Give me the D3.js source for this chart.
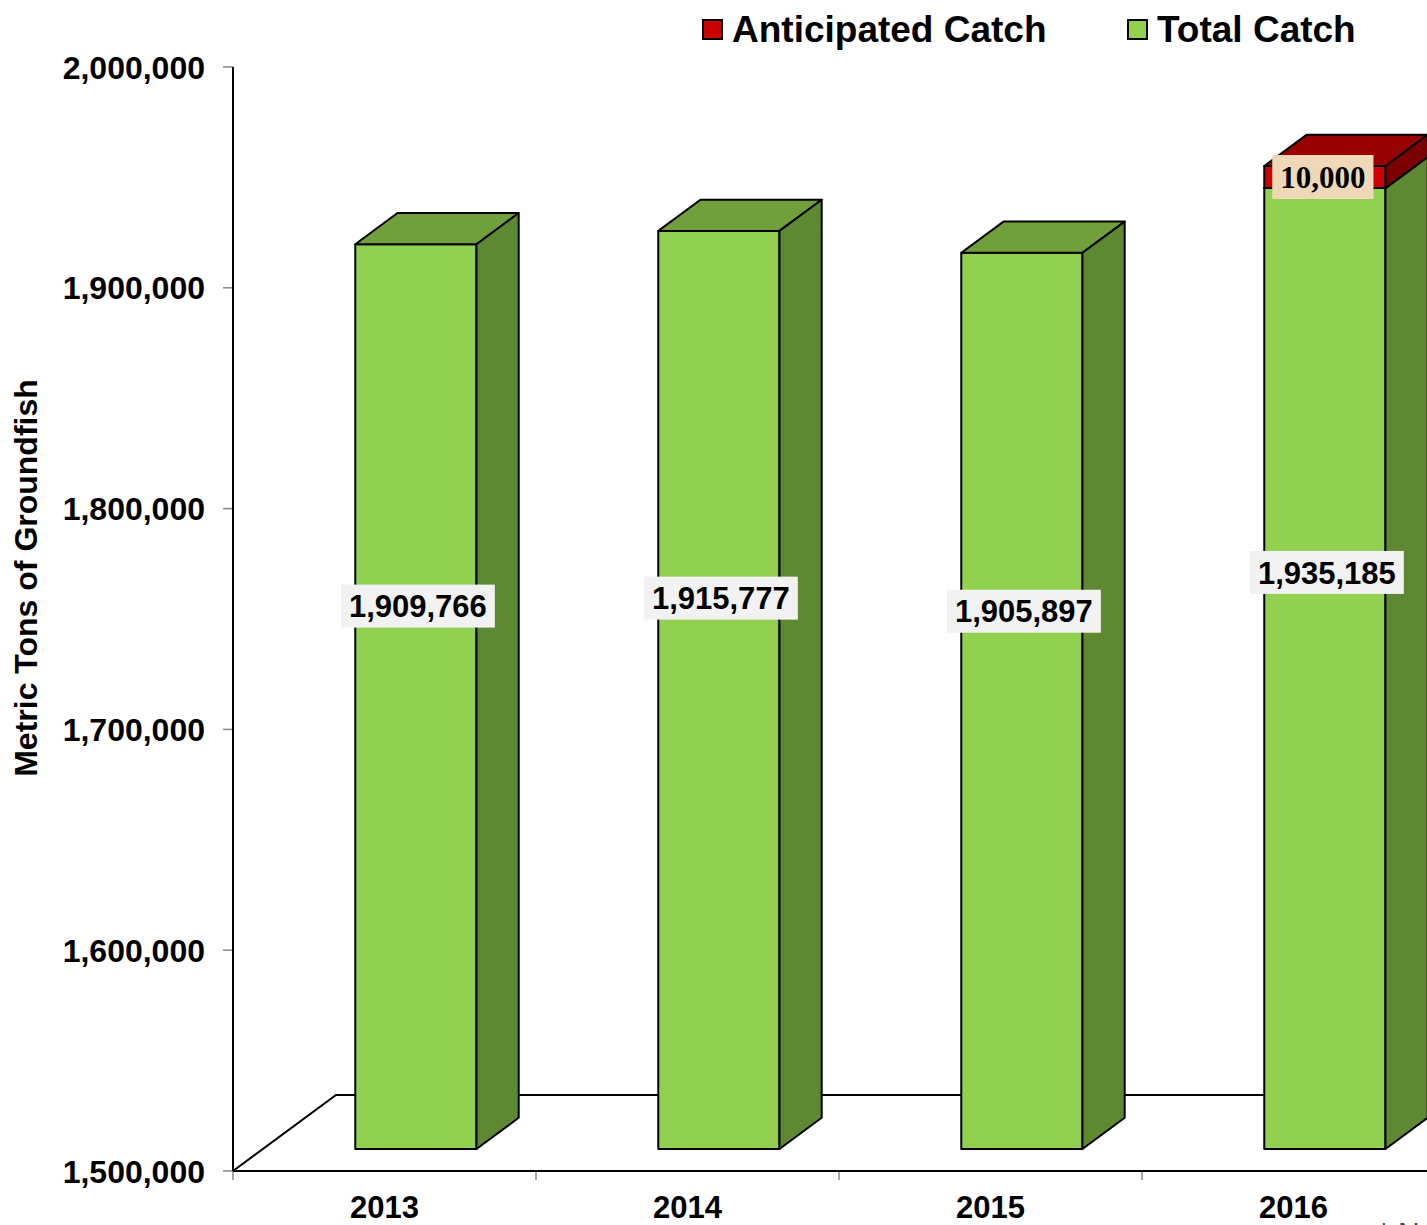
<!DOCTYPE html>
<html lang="en">
<head>
    <meta charset="UTF-8">
    <title>Groundfish catch</title>
    <script src="https://d3js.org/d3.v7.min.js"></script>
    <style>
        body { margin: 0; background: #fff; }
        text { font-family: "Liberation Sans", Arial, sans-serif; font-weight: bold; }
    </style>
</head>
<body>
    <svg width="1427" height="1225"></svg>
    <script>
        // chart data
        const years = ["2013", "2014", "2015", "2016"];
        const totalCatch = [1909766, 1915777, 1905897, 1935185];
        const anticipatedCatch = [0, 0, 0, 10000];
        const yTicks = [1500000, 1600000, 1700000, 1800000, 1900000, 2000000];
        const seriesNames = ["Anticipated Catch", "Total Catch"];

        const svg = d3.select("svg");
        const fmt = d3.format(",");

        const plotLeft = 233, plotBottom = 1171, plotTop = 67;
        const step = 303;

        const x = d3.scaleBand()
            .domain(years)
            .range([plotLeft, plotLeft + step * years.length])
            .paddingInner(0.6)
            .paddingOuter(0.3);

        const y = d3.scaleLinear()
            .domain([1500000, 2000000])
            .range([plotBottom, plotTop]);

        // 3d depth: floor goes back by (103,-76); bars sit at 0.29 of it, 0.41 deep
        const floorDx = 103, floorDy = -76;
        const frontDx = floorDx * 0.29 + 1.5, frontDy = floorDy * 0.29;
        const depthDx = floorDx * 0.41, depthDy = floorDy * 0.41;

        const colors = {
            green: { front: "#92d050", top: "#70a03c", side: "#5e8932" },
            red: { front: "#cc0000", top: "#990000", side: "#7c0000" }
        };

        // floor
        const xEnd = plotLeft + step * years.length;
        svg.append("path")
            .attr("d", `M${plotLeft},${plotBottom}L${plotLeft + floorDx},${plotBottom + floorDy}L${xEnd},${plotBottom + floorDy}`)
            .attr("fill", "none")
            .attr("stroke", "#000")
            .attr("stroke-width", 2);

        // y axis
        const yAxis = svg.append("g");
        yAxis.selectAll("line.tick")
            .data(yTicks)
            .join("line")
            .attr("class", "tick")
            .attr("x1", plotLeft - 10).attr("x2", plotLeft)
            .attr("y1", d => y(d)).attr("y2", d => y(d))
            .attr("stroke", "#888").attr("stroke-width", 1.5);
        yAxis.selectAll("text")
            .data(yTicks)
            .join("text")
            .attr("x", plotLeft - 28)
            .attr("y", d => y(d))
            .attr("dy", "0.36em")
            .attr("text-anchor", "end")
            .attr("font-size", 32)
            .text(d => fmt(d));
        yAxis.append("line")
            .attr("x1", plotLeft).attr("x2", plotLeft)
            .attr("y1", plotTop).attr("y2", plotBottom)
            .attr("stroke", "#000").attr("stroke-width", 2);

        svg.append("text")
            .attr("transform", `translate(37,578) rotate(-90)`)
            .attr("text-anchor", "middle")
            .attr("font-size", 32)
            .text("Metric Tons of Groundfish");

        // x axis
        const xAxis = svg.append("g");
        const bounds = years.map((d, i) => plotLeft + i * step);
        xAxis.selectAll("line.tick")
            .data(bounds)
            .join("line")
            .attr("x1", d => d).attr("x2", d => d)
            .attr("y1", plotBottom).attr("y2", plotBottom + 9)
            .attr("stroke", "#888").attr("stroke-width", 1.5);
        xAxis.append("line")
            .attr("x1", plotLeft).attr("x2", xEnd)
            .attr("y1", plotBottom).attr("y2", plotBottom)
            .attr("stroke", "#000").attr("stroke-width", 2);
        xAxis.selectAll("text")
            .data(years)
            .join("text")
            .attr("x", d => x(d) - x.step() * 0.3 + x.step() / 2)
            .attr("y", 1218)
            .attr("text-anchor", "middle")
            .attr("font-size", 31)
            .text(d => d);

        // one 3d box segment
        function box(g, year, v0, v1, c) {
            const bx = x(year) + frontDx;
            const bw = x.bandwidth();
            const yt = y(v1) + frontDy;
            const yb = y(v0) + frontDy;
            g.append("rect")
                .attr("x", bx).attr("y", yt)
                .attr("width", bw).attr("height", yb - yt)
                .attr("fill", c.front);
            g.append("path")
                .attr("d", `M${bx},${yt}L${bx + bw},${yt}L${bx + bw + depthDx},${yt + depthDy}L${bx + depthDx},${yt + depthDy}Z`)
                .attr("fill", c.top);
            g.append("path")
                .attr("d", `M${bx + bw},${yt}L${bx + bw + depthDx},${yt + depthDy}L${bx + bw + depthDx},${yb + depthDy}L${bx + bw},${yb}Z`)
                .attr("fill", c.side);
            g.selectAll("rect,path")
                .attr("stroke", "#000")
                .attr("stroke-width", 2)
                .attr("stroke-linejoin", "round");
            return { bx, bw, yt, yb };
        }

        function label(g, cx, cy, txt, opts) {
            const t = g.append("text")
                .attr("x", cx).attr("y", cy)
                .attr("dy", "0.36em")
                .attr("text-anchor", "middle")
                .attr("font-size", opts.size)
                .style("font-family", opts.family)
                .text(txt);
            const bb = t.node().getBBox();
            g.insert("rect", "text")
                .attr("x", bb.x - 8).attr("y", cy - opts.h / 2)
                .attr("width", bb.width + 16).attr("height", opts.h)
                .attr("fill", opts.bg);
        }

        const bars = svg.append("g");
        years.forEach((yr, i) => {
            const g = bars.append("g");
            const base = y.domain()[0];
            const b = box(g, yr, base, totalCatch[i], colors.green);
            let r = null;
            if (anticipatedCatch[i] > 0) {
                r = box(g, yr, totalCatch[i], totalCatch[i] + anticipatedCatch[i], colors.red);
            }
            const lg = g.append("g");
            const ly = b.yb - (b.yb - b.yt) * 0.6;
            label(lg, b.bx + b.bw / 2 + 2, ly, fmt(totalCatch[i]),
                { size: 31, family: "'Liberation Sans', Arial, sans-serif", bg: "#f2f2f2", h: 43 });
            if (r) {
                const rg = g.append("g");
                label(rg, r.bx + r.bw / 2 - 2, (r.yt + r.yb) / 2, fmt(anticipatedCatch[i]),
                    { size: 31, family: "'Liberation Serif', 'Times New Roman', serif", bg: "#efd8b8", h: 44 });
            }
        });

        // legend
        const legend = svg.append("g");
        const legendItems = [
            { name: seriesNames[0], color: colors.red.front, x: 703 },
            { name: seriesNames[1], color: colors.green.front, x: 1128 }
        ];
        legendItems.forEach(d => {
            legend.append("rect")
                .attr("x", d.x).attr("y", 20)
                .attr("width", 19).attr("height", 19)
                .attr("fill", d.color)
                .attr("stroke", "#000").attr("stroke-width", 2);
            legend.append("text")
                .attr("x", d.x + 29).attr("y", 42)
                .attr("font-size", 37)
                .text(d.name);
        });

        // footnote, mostly outside the frame
        svg.append("text")
            .attr("x", 1378).attr("y", 1243)
            .attr("font-size", 30)
            .style("font-weight", "normal")
            .attr("fill", "#444")
            .text("* Note");
    </script>
</body>
</html>
